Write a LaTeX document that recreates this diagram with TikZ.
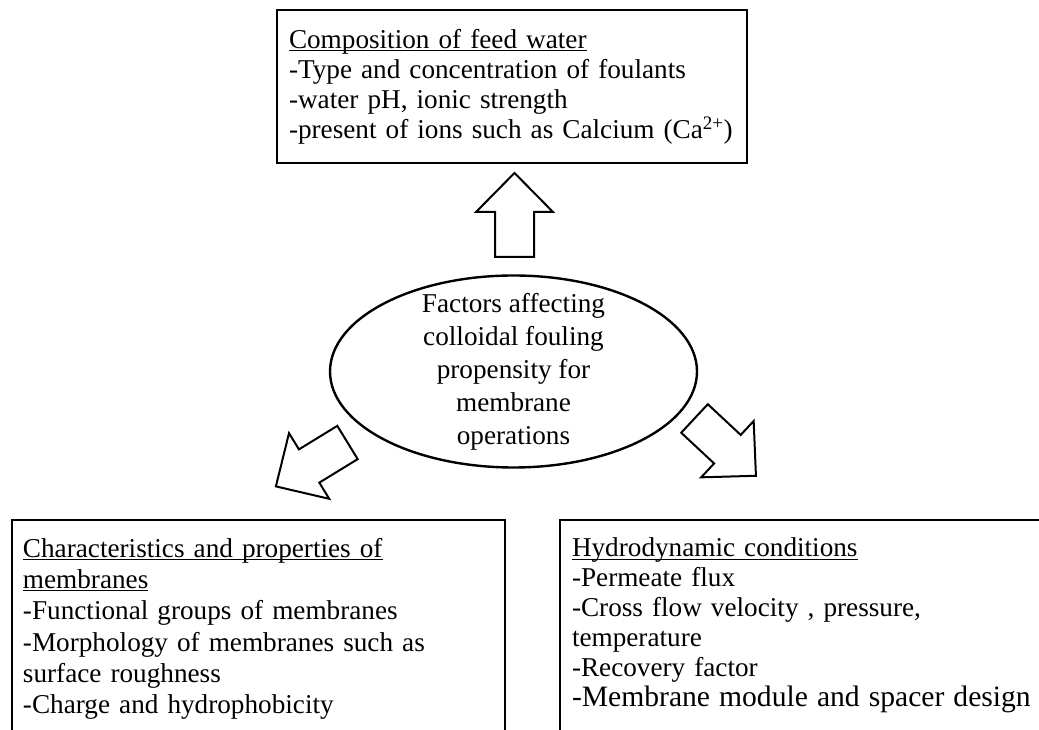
\documentclass[tikz,border=0pt]{standalone}
\usepackage{fontspec}
\setmainfont{Liberation Serif}
\usetikzlibrary{positioning, shapes.geometric}

\newlength{\headwd}
\newcommand{\headline}[1]{\leavevmode\settowidth{\headwd}{#1}\rlap{\rule[-3pt]{\headwd}{1.3pt}}#1}

\tikzset{factorbox/.style={draw, line width=2.6pt, rectangle, anchor=north west,
                           outer sep=0pt, align=left, inner ysep=18pt},
         blockarrow/.pic={
           \draw[line width=2pt, line join=miter]
             (0,-19.5) -- (45,-19.5) -- (45,-38.5) -- (84,0)
             -- (45,38.5) -- (45,19.5) -- (0,19.5) -- cycle;
         }}

\begin{document}
\begin{tikzpicture}[x=1pt, y=1pt]

        \useasboundingbox (0,0) rectangle (1039,730);
        \clip (0,0) rectangle (1039,730);

        % Centre oval
        \node[draw, ellipse, line width=2.4pt, minimum width=367, minimum height=192,
              inner sep=-12pt, align=center, font=\fontsize{27.2}{33}\selectfont]
              (factors) at (513.5, 358.5)
              {Factors affecting\\colloidal fouling\\propensity for\\membrane\\operations};

        % Top box
        \node[factorbox, minimum height=153, inner xsep=12pt,
              text width=446, font=\fontsize{27.2}{30}\selectfont]
              (feed) at (277, 720)
              {\headline{Composition of feed water}\\
               -Type and concentration of foulants\\
               -water pH, ionic strength\\
               -present of ions such as Calcium (Ca\textsuperscript{2+})};

        % Bottom left box
        \node[factorbox, minimum width=493, inner xsep=11pt, text width=471,
              text depth=200pt, font=\fontsize{27.2}{31.3}\selectfont]
              (membr) at (12, 210)
              {\headline{Characteristics and properties of}\\
               \headline{membranes}\\
               -Functional groups of membranes\\
               -Morphology of membranes such as\\
               surface roughness\\
               -Charge and hydrophobicity};

        % Bottom right box
        \node[factorbox, inner xsep=12pt, text width=500,
              text depth=200pt, font=\fontsize{27.2}{30}\selectfont]
              (hydro) at (560, 210)
              {\headline{Hydrodynamic conditions}\\
               -Permeate flux\\
               -Cross flow velocity , pressure,\\
               temperature\\
               -Recovery factor\\
               {\fontsize{29.6}{30}\selectfont -Membrane module and spacer design}};

        % Block arrows out of the oval
        \pic[rotate=90] at (514.5, 473) {blockarrow};
        \pic[rotate=211.5] at (347.5, 287.5) {blockarrow};
        \pic[rotate=-43] at (694.5, 311.5) {blockarrow};

\end{tikzpicture}
\end{document}
